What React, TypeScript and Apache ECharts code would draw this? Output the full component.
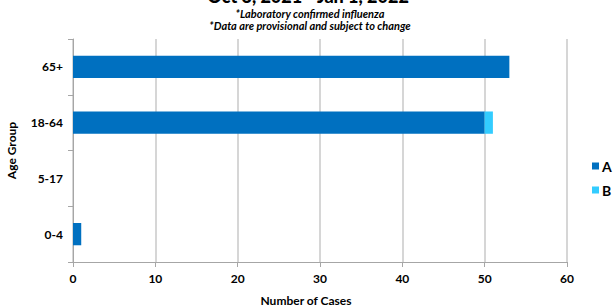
import React, { useEffect, useRef } from "react";
import * as echarts from "echarts";

const categories = ["0-4", "5-17", "18-64", "65+"];
const seriesA = [1, 0, 50, 53];
const seriesB = [0, 0, 1, 0];
const xTicks = { min: 0, max: 60, interval: 10 };
const titleText = "Oct 3, 2021 - Jan 1, 2022";
const subtitle1 = "*Laboratory confirmed influenza";
const subtitle2 = "*Data are provisional and subject to change";
const xAxisName = "Number of Cases";

const FONT = "Lato, 'Open Sans', sans-serif";

export default function App() {
  const ref = useRef<HTMLDivElement>(null);
  useEffect(() => {
    if (!ref.current) return;
    const chart = echarts.init(ref.current, undefined, { renderer: "svg" });
    chart.setOption({
      animation: false,
      textStyle: { fontFamily: FONT },
      grid: { left: 73, right: 48, top: 39, bottom: 45, containLabel: false, outerBoundsMode: "none" },
      graphic: [
        {
          type: "text",
          x: 308,
          y: 5,
          style: {
            text: titleText,
            font: `900 18px ${FONT}`,
            fill: "#000",
            textAlign: "center",
            textVerticalAlign: "bottom",
          },
        },
        {
          type: "text",
          x: 310,
          y: 13,
          style: {
            text: subtitle1,
            font: `italic bold 11px ${FONT}`,
            fill: "#000",
            textAlign: "center",
            textVerticalAlign: "middle",
          },
        },
        {
          type: "text",
          x: 310,
          y: 25,
          style: {
            text: subtitle2,
            font: `italic bold 11px ${FONT}`,
            fill: "#000",
            textAlign: "center",
            textVerticalAlign: "middle",
          },
        },
        {
          type: "text",
          x: 306,
          y: 300,
          style: {
            text: xAxisName,
            font: `bold 12px ${FONT}`,
            fill: "#000",
            textAlign: "center",
            textVerticalAlign: "middle",
          },
        },
      ],
      legend: {
        orient: "vertical",
        left: 587,
        top: 154,
        itemWidth: 7,
        itemHeight: 7,
        itemGap: 10,
        icon: "rect",
        textStyle: { fontFamily: FONT, fontWeight: "bold", fontSize: 14, color: "#000", padding: [0, 0, 0, -2] },
        data: ["A", "B"],
      },
      xAxis: {
        type: "value",
        min: xTicks.min,
        max: xTicks.max,
        interval: xTicks.interval,
        axisLine: { show: true, lineStyle: { color: "#A6A6A6" } },
        axisTick: { show: true, length: 5, lineStyle: { color: "#A6A6A6" } },
        axisLabel: { fontFamily: FONT, fontWeight: "bold", fontSize: 12, color: "#000", margin: 10 },
        splitLine: { show: true, lineStyle: { color: "#C8C8C8", width: 1.5 } },
      },
      yAxis: {
        type: "category",
        data: categories,
        name: "Age Group",
        nameLocation: "middle",
        nameGap: 56,
        nameTextStyle: { fontFamily: FONT, fontWeight: "bold", fontSize: 12, color: "#000" },
        axisLine: { show: true, lineStyle: { color: "#A6A6A6" } },
        axisTick: { show: true, length: 5, lineStyle: { color: "#A6A6A6" } },
        axisLabel: { fontFamily: FONT, fontWeight: "bold", fontSize: 12, color: "#000", margin: 10 },
        splitLine: { show: false },
      },
      series: [
        {
          name: "A",
          type: "bar",
          stack: "total",
          data: seriesA,
          barWidth: "40%",
          itemStyle: { color: "#0070C0" },
        },
        {
          name: "B",
          type: "bar",
          stack: "total",
          data: seriesB,
          barWidth: "40%",
          itemStyle: { color: "#33CCFF" },
        },
      ],
    });
    return () => chart.dispose();
  }, []);
  return <div ref={ref} style={{ width: 615, height: 307, position: "absolute", left: 0, top: 0 }} />;
}
